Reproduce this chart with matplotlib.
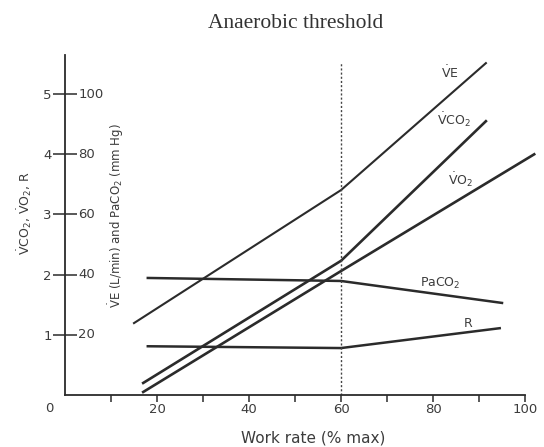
import matplotlib
matplotlib.use("Agg")
import matplotlib.pyplot as plt
import matplotlib.transforms as mtransforms

plt.rcParams['font.family'] = ['DejaVu Sans']
plt.rcParams['mathtext.fontset'] = 'dejavusans'

# work rate (% max) and values
ve_x = [15, 60, 91.5]
ve_y = [23.9, 68.1, 110.3]        # L/min (right scale)
vco2_x = [17, 60, 91.5]
vco2_y = [0.20, 2.23, 4.55]       # L/min (left scale)
vo2_x = [17, 60, 102]
vo2_y = [0.05, 2.06, 4.00]
paco2_x = [18, 60, 95]
paco2_y = [38.9, 37.9, 30.6]      # mm Hg (right scale)
r_x = [18, 60, 94.5]
r_y = [0.81, 0.78, 1.11]

threshold = 60
left_ticks = [1, 2, 3, 4, 5]
right_ticks = [20, 40, 60, 80, 100]
x_ticks = [10, 20, 30, 40, 50, 60, 70, 80, 90, 100]
x_labels = ['', '20', '', '40', '', '60', '', '80', '', '100']

ink = '#2b2b2b'
txt = '#3c3c3c'

fig = plt.figure(figsize=(5.44, 4.47), dpi=100)
ax = fig.add_axes([65 / 544, 52 / 447, 460 / 544, 340 / 447])
ax.set_xlim(0, 100)
ax.set_ylim(0, 5.65)

# right-hand quantities are drawn on the left scale (1 unit = 20)
ax.plot(ve_x, [v / 20 for v in ve_y], color=ink, lw=1.5, clip_on=False)
ax.plot(vco2_x, vco2_y, color=ink, lw=1.9, clip_on=False)
ax.plot(vo2_x, vo2_y, color=ink, lw=1.9, clip_on=False)
ax.plot(paco2_x, [p / 20 for p in paco2_y], color=ink, lw=1.8, clip_on=False)
ax.plot(r_x, r_y, color=ink, lw=1.8, clip_on=False)
ax.plot([threshold, threshold], [0, 5.53], color='#444444', lw=1.0,
        linestyle=(0, (1.5, 1.5)))

for s in ['top', 'right']:
    ax.spines[s].set_visible(False)
ax.spines['left'].set_color(ink)
ax.spines['bottom'].set_color(ink)
ax.spines['left'].set_linewidth(1.3)
ax.spines['bottom'].set_linewidth(1.3)

ax.set_xticks(x_ticks)
ax.set_xticklabels(x_labels)
ax.tick_params(axis='x', direction='out', length=5, width=1.1, color=ink,
               labelsize=9.5, labelcolor=txt, pad=1)
ax.set_yticks(left_ticks)
ax.set_yticklabels([str(t) for t in left_ticks])
ax.tick_params(axis='y', direction='inout', length=17, width=1.1, color=ink,
               labelsize=9.5, labelcolor=txt, pad=1)

trans = mtransforms.blended_transform_factory(ax.transAxes, ax.transData)
for t in right_ticks:
    ax.text(0.029, t / 20, str(t), transform=trans, fontsize=9.5, color=txt,
            ha='left', va='center')

ax.text(-0.035, -0.04, '0', transform=ax.transAxes, fontsize=9.5, color=txt,
        ha='center', va='center')

ax.set_xlabel('Work rate (% max)', fontsize=11, color=txt)
ax.xaxis.set_label_coords(0.54, -0.105)

ax.text(-0.087, 3.03, r'$\dot{\rm V}$CO$_2$, $\dot{\rm V}$O$_2$, R',
        transform=trans, rotation=90, fontsize=9, color=txt,
        ha='center', va='center')
ax.text(0.111, 2.98, r'$\dot{\rm V}$E (L/min) and PaCO$_2$ (mm Hg)',
        transform=trans, rotation=90, fontsize=8.5, color=txt,
        ha='center', va='center')

# series labels
ax.text(83.7, 5.35, r'$\dot{\rm V}$E', fontsize=9, color=txt, ha='center', va='center')
ax.text(84.5, 4.58, r'$\dot{\rm V}$CO$_2$', fontsize=9, color=txt, ha='center', va='center')
ax.text(86.0, 3.57, r'$\dot{\rm V}$O$_2$', fontsize=9, color=txt, ha='center', va='center')
ax.text(81.5, 1.86, r'PaCO$_2$', fontsize=9, color=txt, ha='center', va='center')
ax.text(87.6, 1.18, 'R', fontsize=9, color=txt, ha='center', va='center')

fig.text(0.544, 1 - 24 / 447, 'Anaerobic threshold', family='Liberation Serif',
         fontsize=15.5, color='#333333', ha='center', va='center')

fig.savefig('out.png', dpi=100)
